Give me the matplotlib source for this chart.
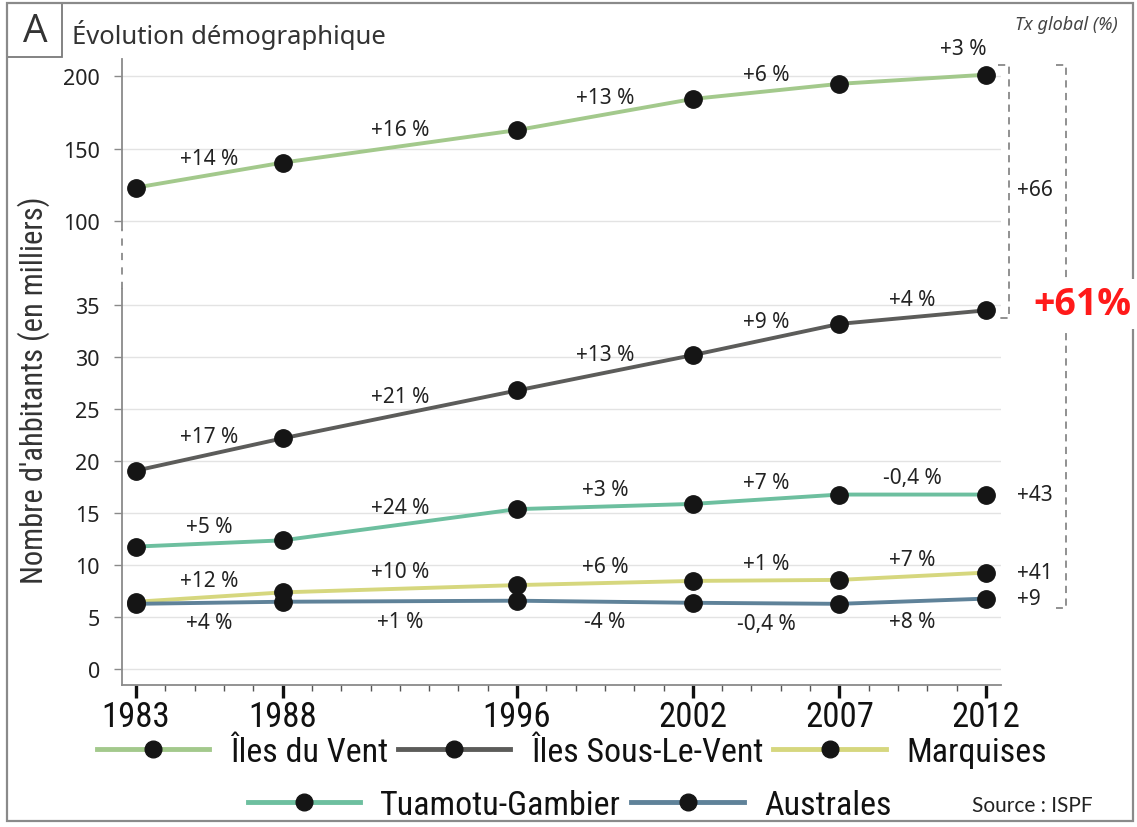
import numpy as np
import matplotlib.pyplot as plt
from matplotlib.lines import Line2D
from matplotlib.patches import Rectangle
from matplotlib import font_manager

# --- data (milliers d'habitants) ---
years = [1983, 1988, 1996, 2002, 2007, 2012]
iles_du_vent = [123.1, 140.3, 162.7, 184.2, 194.6, 200.9]
iles_sous_le_vent = [19.1, 22.2, 26.8, 30.2, 33.2, 34.5]
marquises = [6.5, 7.4, 8.1, 8.5, 8.6, 9.3]
tuamotu_gambier = [11.8, 12.4, 15.4, 15.9, 16.8, 16.8]
australes = [6.3, 6.5, 6.6, 6.4, 6.3, 6.8]

# variations between census years
pct_vent = ['+14 %', '+16 %', '+13 %', '+6 %', '+3 %']
pct_sous_vent = ['+17 %', '+21 %', '+13 %', '+9 %', '+4 %']
pct_marquises = ['+12 %', '+10 %', '+6 %', '+1 %', '+7 %']
pct_tuamotu = ['+5 %', '+24 %', '+3 %', '+7 %', '-0,4 %']
pct_australes = ['+4 %', '+1 %', '-4 %', '-0,4 %', '+8 %']

# global rates 1983-2012
tx_societe = '+66'
tx_tuamotu = '+43'
tx_marquises = '+41'
tx_australes = '+9'
tx_total = '+61%'

names = ['Îles du Vent', 'Îles Sous-Le-Vent', 'Marquises', 'Tuamotu-Gambier', 'Australes']
colors = ['#a3c98c', '#5c5c5a', '#d6d77e', '#6dbf9f', '#5f8299']

yticks = [0, 5, 10, 15, 20, 25, 30, 35, 100, 150, 200]

# fonts
available = {f.name for f in font_manager.fontManager.ttflist}
narrow = 'DejaVu Sans'
for cand in ['Liberation Sans Narrow', 'DejaVu Sans Condensed', 'Roboto Condensed']:
    if cand in available:
        narrow = cand
        break
base_font = 'Noto Sans'
plt.rcParams['font.family'] = [base_font, 'DejaVu Sans']


# broken y axis: lower part 0-35, squeezed gap, upper part 100-200
LOW, GAP, HIGH = 10.4, 84 / 65, 1.45


def fwd(y):
    y = np.asarray(y, dtype=float)
    return np.where(y <= 35, y * LOW,
                    np.where(y <= 100, 35 * LOW + (y - 35) * GAP,
                             35 * LOW + 65 * GAP + (y - 100) * HIGH))


def inv(h):
    h = np.asarray(h, dtype=float)
    h1 = 35 * LOW
    h2 = h1 + 65 * GAP
    return np.where(h <= h1, h / LOW,
                    np.where(h <= h2, 35 + (h - h1) / GAP, 100 + (h - h2) / HIGH))


fig = plt.figure(figsize=(11.37, 8.28), dpi=100)
ax = fig.add_axes([0.1073, 0.1715, 0.7727, 0.756])
ax.set_yscale('function', functions=(fwd, inv))
ax.set_xlim(1982.52, 2012.5)
ax.set_ylim(-1.5, 211.7)

series = [iles_du_vent, iles_sous_le_vent, marquises, tuamotu_gambier, australes]
for vals, col in zip(series, colors):
    ax.plot(years, vals, color=col, lw=2.8, zorder=3, solid_capstyle='round')
    ax.plot(years, vals, 'o', color='#151515', ms=12.5, zorder=4)

# percent labels between census years
mids = [(a + b) / 2 for a, b in zip(years[:-1], years[1:])]
label_sets = [(iles_du_vent, pct_vent, 17), (iles_sous_le_vent, pct_sous_vent, 18),
              (marquises, pct_marquises, 17), (tuamotu_gambier, pct_tuamotu, 17),
              (australes, pct_australes, -20)]
for vals, labs, off in label_sets:
    for i, lab in enumerate(labs):
        xm = mids[i]
        ym = (vals[i] + vals[i + 1]) / 2
        dx = 0
        if vals is iles_du_vent and i == len(labs) - 1:
            dx, off = 51, 31
        ax.annotate(lab, (xm, ym), xytext=(dx, off), textcoords='offset pixels',
                    ha='center', va='center', fontsize=15, color='#222222', zorder=5)

# axes styling
for s in ['top', 'right', 'left']:
    ax.spines[s].set_visible(False)
ax.spines['bottom'].set_color('#8a8a8a')
ax.spines['bottom'].set_linewidth(1.3)

ytr = ax.get_yaxis_transform()
ax.plot([0, 0], [-1.5, 47.4], color='#8a8a8a', lw=1.3, transform=ytr, clip_on=False)
ax.plot([0, 0], [47.4, 93.8], color='#8a8a8a', lw=1.3, ls=(0, (4, 4)), transform=ytr, clip_on=False)
ax.plot([0, 0], [93.8, 211.7], color='#8a8a8a', lw=1.3, transform=ytr, clip_on=False)

ax.set_yticks(yticks)
ax.set_yticklabels([str(t) for t in yticks])
ax.yaxis.set_minor_locator(plt.NullLocator())
ax.tick_params(axis='y', length=6, width=1, color='#8a8a8a', pad=10, labelsize=15.5, labelcolor='#222222')
ax.grid(axis='y', color='#e3e3e3', lw=1)
ax.set_axisbelow(True)

ax.set_xticks(years)
ax.set_xticklabels([str(y) for y in years], fontfamily=narrow)
ax.set_xticks(range(1983, 2013), minor=True)
ax.tick_params(axis='x', which='major', length=9, width=2.4, color='#111111', pad=2,
               labelsize=25, labelcolor='#111111')
ax.tick_params(axis='x', which='minor', length=4.5, width=1, color='#555555')

ax.set_ylabel("Nombre d'ahbitants (en milliers)", fontfamily=narrow, fontsize=22, color='#333333')
ax.yaxis.set_label_coords(-0.082, 0.473)

# brackets and global rates on the right
br1_x, br1_t = 2012.79, 2012.41
top_b = iles_du_vent[-1] + 6.7
ax.plot([br1_t, br1_x, br1_x, br1_t], [top_b, top_b, iles_sous_le_vent[-1] - 0.7, iles_sous_le_vent[-1] - 0.7],
        color='#888888', lw=1.3, ls=(0, (4, 3)), clip_on=False, zorder=2)
br2_x, br2_t = 2014.73, 2014.39
ax.plot([br2_t, br2_x, br2_x, br2_t], [top_b, top_b, australes[-1] - 0.86, australes[-1] - 0.86],
        color='#888888', lw=1.3, ls=(0, (4, 3)), clip_on=False, zorder=2)

tx_x = 2013.06
ax.text(tx_x, 122, tx_societe, fontsize=15, color='#222222', va='center', ha='left', clip_on=False)
for vals, lab in [(tuamotu_gambier, tx_tuamotu), (marquises, tx_marquises), (australes, tx_australes)]:
    ax.text(tx_x, vals[-1], lab, fontsize=15, color='#222222', va='center', ha='left', clip_on=False)

fig.text(1131 / 1137, 1 - 305 / 828, tx_total, fontsize=27, fontweight='bold', color='#ff1a1a',
         fontfamily=['Open Sans', 'DejaVu Sans'], ha='right', va='center',
         bbox=dict(facecolor='white', edgecolor='none', pad=4))
fig.text(1118 / 1137, 1 - 25 / 828, 'Tx global (%)', fontsize=13, style='italic', color='#444444',
         ha='right', va='center')

# title block
fig.patches.append(Rectangle((7 / 1137, 1 - 58 / 828), 55 / 1137, 54 / 828, transform=fig.transFigure,
                             fill=False, edgecolor='#7a7a7a', lw=1.3))
fig.text(35 / 1137, 1 - 32 / 828, 'A', fontsize=28, color='#333333', ha='center', va='center',
         fontfamily=['Open Sans', 'DejaVu Sans'])
fig.text(72 / 1137, 1 - 35 / 828, 'Évolution démographique', fontsize=18.5, color='#333333',
         ha='left', va='center')
fig.patches.append(Rectangle((7 / 1137, 6 / 828), 1126 / 1137, 818 / 828, transform=fig.transFigure,
                             fill=False, edgecolor='#8a8a8a', lw=1.6))

# legend in two rows
handles = [Line2D([], [], color=c, lw=3.5, marker='o', ms=12, mfc='#151515', mec='#151515') for c in colors]
leg_kw = dict(frameon=False, handlelength=3.3, handletextpad=0.6, columnspacing=0.3,
              prop={'family': narrow, 'size': 24.5}, labelcolor='#111111', loc='center', borderpad=0)
leg1 = fig.legend(handles[:3], names[:3], ncol=3, bbox_to_anchor=(0.503, 1 - 753 / 828), **leg_kw)
leg2 = fig.legend(handles[3:], names[3:], ncol=2, bbox_to_anchor=(0.501, 1 - 806 / 828), **leg_kw)

fig.text(1032 / 1137, 1 - 806 / 828, 'Source : ISPF', fontsize=15, color='#222222', ha='center', va='center',
         fontfamily=['Lato', 'DejaVu Sans'])

fig.savefig('out.png', dpi=100, facecolor='white')
